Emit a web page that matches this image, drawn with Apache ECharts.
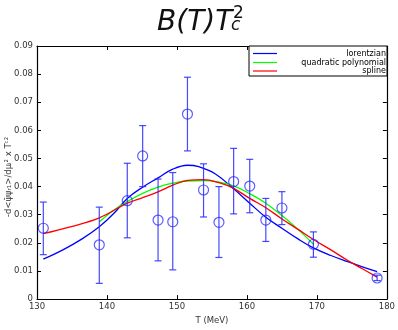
<!DOCTYPE html>
<html><head><meta charset="utf-8">
<script src="https://cdn.jsdelivr.net/npm/echarts@6/dist/echarts.min.js"></script>
<style>html,body{margin:0;padding:0;background:#fff}#c{width:398px;height:330px}</style>
</head><body><div id="c"></div>
<script>
var pointT   = [130.9, 138.9, 142.9, 145.1, 147.3, 149.4, 151.5, 153.8, 156.0, 158.1, 160.4, 162.7, 165.0, 169.5, 178.6];
var pointV   = [0.0252, 0.0193, 0.0350, 0.0509, 0.0281, 0.0275, 0.0658, 0.0388, 0.0273, 0.0418, 0.0402, 0.0281, 0.0324, 0.0195, 0.0075];
var errLow   = [0.0158, 0.0056, 0.0218, 0.0400, 0.0136, 0.0104, 0.0527, 0.0292, 0.0148, 0.0303, 0.0307, 0.0205, 0.0265, 0.0149, 0.0066];
var errHigh  = [0.0345, 0.0327, 0.0483, 0.0617, 0.0427, 0.0450, 0.0789, 0.0481, 0.0400, 0.0536, 0.0497, 0.0358, 0.0382, 0.0239, 0.0085];

var lorentzT = [130.9, 133.7, 136.5, 138.9, 141.0, 142.9, 145.1, 147.3, 149.4, 151.5, 153.1, 155.5, 158.1, 160.4, 162.7, 165.0, 167.3, 169.5, 172.0, 174.3, 176.5, 178.6];
var lorentzV = [0.0142, 0.0175, 0.0215, 0.0257, 0.0305, 0.0358, 0.0398, 0.0431, 0.0462, 0.0476, 0.0471, 0.0445, 0.0392, 0.0341, 0.0291, 0.0252, 0.0214, 0.0182, 0.0155, 0.0134, 0.0115, 0.0098];
var quadT    = [138.9, 140.9, 142.9, 145.1, 147.3, 149.4, 151.5, 153.8, 156.0, 158.1, 160.4, 162.7, 165.0, 167.3, 169.5];
var quadV    = [0.0274, 0.0315, 0.0347, 0.0376, 0.0398, 0.0412, 0.0420, 0.0421, 0.0416, 0.0403, 0.0375, 0.0341, 0.0297, 0.0248, 0.0195];
var splineT  = [130.9, 134.9, 138.9, 142.9, 145.1, 147.3, 149.4, 151.5, 153.8, 156.0, 158.1, 160.4, 162.7, 165.0, 167.3, 169.5, 172.0, 174.3, 176.5, 178.6];
var splineV  = [0.0233, 0.0258, 0.0289, 0.0341, 0.0361, 0.0381, 0.0405, 0.0422, 0.0425, 0.0414, 0.0394, 0.0358, 0.0325, 0.0285, 0.0248, 0.0212, 0.0175, 0.0139, 0.0108, 0.0078];

var xTicks = [130, 140, 150, 160, 170, 180];
var yTicks = [0, 0.01, 0.02, 0.03, 0.04, 0.05, 0.06, 0.07, 0.08, 0.09];

function zip(a, b) { return a.map(function (v, i) { return [v, b[i]]; }); }
var errData = pointT.map(function (t, i) { return [t, errLow[i], errHigh[i]]; });

var chart = echarts.init(document.getElementById('c'), null, {renderer: 'canvas'});
var axisLbl = {color: '#333', fontSize: 8.5, fontFamily: 'DejaVu Sans'};
var tickInside = {show: true, inside: true, length: 4, lineStyle: {color: '#000', width: 1}};
chart.setOption({
  animation: false,
  backgroundColor: '#fff',
  grid: {left: 37, right: 8, top: 46, bottom: 17, show: false},
  xAxis: [{
    type: 'value', min: 130, max: 180, interval: 10, position: 'bottom',
    axisLine: {show: true, onZero: false, lineStyle: {color: '#000', width: 1.2}},
    axisTick: tickInside, splitLine: {show: false},
    axisLabel: Object.assign({margin: 3, showMinLabel: true, showMaxLabel: true,
      formatter: function (v) { return xTicks.indexOf(v) >= 0 ? String(v) : ''; }}, axisLbl),
    name: 'T (MeV)', nameLocation: 'middle', nameGap: 13,
    nameTextStyle: {fontSize: 8.5, color: '#333', fontFamily: 'DejaVu Sans'}
  }, {
    type: 'value', min: 130, max: 180, interval: 10, position: 'top',
    axisLine: {show: true, onZero: false, lineStyle: {color: '#000', width: 1.2}},
    axisTick: tickInside, axisLabel: {show: false}, splitLine: {show: false}
  }],
  yAxis: [{
    type: 'value', min: 0, max: 0.09, interval: 0.01, position: 'left',
    axisLine: {show: true, onZero: false, lineStyle: {color: '#000', width: 1.2}},
    axisTick: tickInside, splitLine: {show: false},
    axisLabel: Object.assign({margin: 4, formatter: function (v) {
      var r = Math.round(v * 100) / 100; return r === 0 ? '0' : r.toFixed(2); }}, axisLbl)
  }, {
    type: 'value', min: 0, max: 0.09, interval: 0.01, position: 'right',
    axisLine: {show: true, onZero: false, lineStyle: {color: '#000', width: 1.2}},
    axisTick: tickInside, axisLabel: {show: false}, splitLine: {show: false}
  }],
  series: [
    {name: 'lorentzian', type: 'line', smooth: 0.4, showSymbol: false, data: zip(lorentzT, lorentzV),
     lineStyle: {color: '#0000ff', width: 1.3}, z: 3},
    {name: 'quadratic polynomial', type: 'line', smooth: 0.4, showSymbol: false, data: zip(quadT, quadV),
     lineStyle: {color: '#00ff00', width: 1.3}, z: 4},
    {name: 'spline', type: 'line', smooth: 0.4, showSymbol: false, data: zip(splineT, splineV),
     lineStyle: {color: '#ff0000', width: 1.3}, z: 5},
    {type: 'custom', data: errData, z: 6,
     renderItem: function (params, api) {
       var lo = api.coord([api.value(0), api.value(1)]);
       var hi = api.coord([api.value(0), api.value(2)]);
       var st = {stroke: 'rgba(40,40,255,0.85)', lineWidth: 1.2};
       var cw = 3.5;
       return {type: 'group', children: [
         {type: 'line', shape: {x1: lo[0], y1: lo[1], x2: hi[0], y2: hi[1]}, style: st},
         {type: 'line', shape: {x1: lo[0] - cw, y1: lo[1], x2: lo[0] + cw, y2: lo[1]}, style: st},
         {type: 'line', shape: {x1: hi[0] - cw, y1: hi[1], x2: hi[0] + cw, y2: hi[1]}, style: st}
       ]};
     }},
    {type: 'scatter', data: zip(pointT, pointV), symbol: 'circle', symbolSize: 10, z: 7,
     itemStyle: {color: 'rgba(0,0,0,0)', borderColor: 'rgba(30,30,255,0.9)', borderWidth: 1.2}}
  ],
  graphic: [
    {type: 'text', left: 157, top: 9, style: {text: 'B(T)T', fontSize: 28, fontStyle: 'italic', fontFamily: 'DejaVu Sans', fill: '#111'}},
    {type: 'text', left: 233, top: 5, style: {text: '2', fontSize: 17, fontFamily: 'DejaVu Sans', fill: '#111'}},
    {type: 'text', left: 231, top: 17, style: {text: 'c', fontSize: 17, fontStyle: 'italic', fontFamily: 'DejaVu Sans', fill: '#111'}},
    {type: 'text', x: 9, y: 177, rotation: Math.PI / 2,
     style: {text: '-d<ψ̄ψ\u1d63\u2081>/dμ\u1d62² x T\u1d9c²', fontSize: 8.5, fontFamily: 'DejaVu Sans', fill: '#333', align: 'center', verticalAlign: 'middle'}},
    {type: 'rect', shape: {x: 249, y: 46, width: 138, height: 30}, style: {fill: '#fff', stroke: '#000', lineWidth: 1}, z: 20},
    {type: 'line', shape: {x1: 253, y1: 53.5, x2: 277, y2: 53.5}, style: {stroke: '#0000ff', lineWidth: 1.2}, z: 21},
    {type: 'line', shape: {x1: 253, y1: 62.5, x2: 277, y2: 62.5}, style: {stroke: '#00ff00', lineWidth: 1.2}, z: 21},
    {type: 'line', shape: {x1: 253, y1: 71, x2: 277, y2: 71}, style: {stroke: '#ff0000', lineWidth: 1.2}, z: 21},
    {type: 'text', x: 386, y: 53.5, style: {text: 'lorentzian', fontSize: 8, fontFamily: 'DejaVu Sans', fill: '#000', align: 'right', verticalAlign: 'middle'}, z: 21},
    {type: 'text', x: 386, y: 62.5, style: {text: 'quadratic polynomial', fontSize: 8, fontFamily: 'DejaVu Sans', fill: '#000', align: 'right', verticalAlign: 'middle'}, z: 21},
    {type: 'text', x: 386, y: 71, style: {text: 'spline', fontSize: 8, fontFamily: 'DejaVu Sans', fill: '#000', align: 'right', verticalAlign: 'middle'}, z: 21}
  ]
});
</script></body></html>
